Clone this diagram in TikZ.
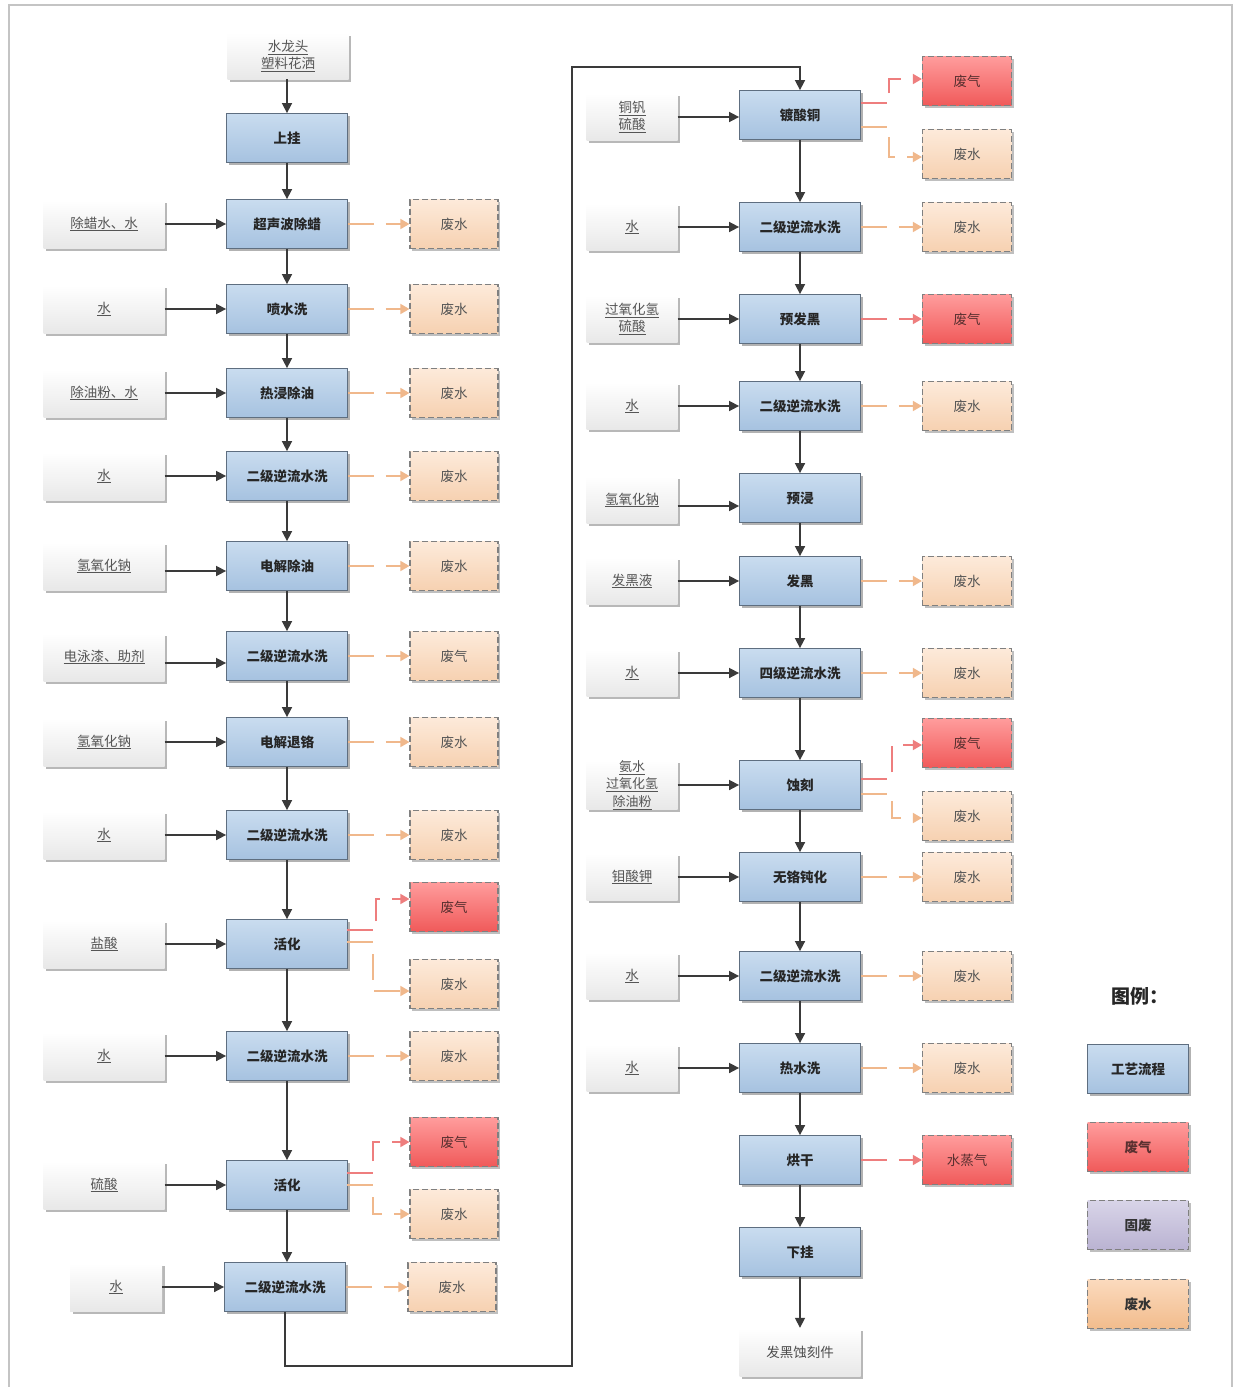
\documentclass[tikz,border=0pt]{standalone}
\usepackage{fontspec}
\setmainfont{Noto Sans CJK SC}
\usetikzlibrary{arrows.meta,shadows}
\definecolor{proctop}{HTML}{C9DCEF}
\definecolor{procbot}{HTML}{A6C2E0}
\definecolor{procborder}{HTML}{5E6E80}
\definecolor{gastop}{HTML}{FF9C9C}
\definecolor{gasbot}{HTML}{F05A5A}
\definecolor{wattop}{HTML}{FDEADA}
\definecolor{watbot}{HTML}{F6D1B1}
\definecolor{lwattop}{HTML}{FBDABD}
\definecolor{lwatbot}{HTML}{F2BC8C}
\definecolor{soltop}{HTML}{D8D4E8}
\definecolor{solbot}{HTML}{BAB3D2}
\definecolor{flowc}{HTML}{3A3A3A}
\definecolor{wwline}{HTML}{F0B88C}
\definecolor{wgline}{HTML}{EE7E7E}
\definecolor{dashc}{HTML}{808080}
\definecolor{intext}{HTML}{555555}
\definecolor{gastext}{HTML}{5A3030}
\definecolor{frame}{HTML}{C4C4C4}
\begin{document}
\begin{tikzpicture}[x=1pt,y=-1pt,
  base/.style={inner sep=0pt, align=center, font=\fontsize{13.5}{17}\selectfont},
  proc/.style={base, draw=procborder, line width=0.8pt, top color=proctop, bottom color=procbot,
    minimum width=121pt, minimum height=49pt, font=\bfseries\fontsize{13.5}{17}\selectfont, text=black!85,
    drop shadow={shadow xshift=2.5pt, shadow yshift=-2.5pt, fill=black, opacity=0.3}},
  inp/.style={base, top color=white, bottom color=black!9, minimum width=121pt, minimum height=48pt, text=intext,
    drop shadow={shadow xshift=2.5pt, shadow yshift=-2.5pt, fill=black, opacity=0.28}},
  inps/.style={inp, minimum width=91pt, minimum height=47pt},
  wat/.style={base, draw=dashc, line width=1.2pt, dash pattern=on 6pt off 3pt, top color=wattop, bottom color=watbot,
    minimum width=88pt, minimum height=49pt, text=intext,
    drop shadow={shadow xshift=2pt, shadow yshift=-2pt, fill=black, opacity=0.25}},
  gas/.style={wat, top color=gastop, bottom color=gasbot, text=gastext},
  flow/.style={draw=flowc, line width=1.6pt, -{Triangle[length=10pt,width=10pt]}},
  ww/.style={draw=wwline, line width=1.6pt, dash pattern=on 26pt off 12pt, -{Triangle[length=9pt,width=10pt]}},
  wg/.style={ww, draw=wgline},
]
\useasboundingbox (0,0) rectangle (1238,1387);
\fill[white] (0,0) rectangle (1238,1387);
\draw[frame, line width=2pt] (9,1387) -- (9,5) -- (1232,5) -- (1232,1387);

% ---------------- left column ----------------
\node[inp, minimum height=46pt] (S0) at (288,56) {\underline{水龙头}\\\underline{塑料花洒}};
\node[proc] (L1) at (287,138) {上挂};
\node[proc] (L2) at (287,224) {超声波除蜡};
\node[proc] (L3) at (287,309) {喷水洗};
\node[proc] (L4) at (287,393) {热浸除油};
\node[proc] (L5) at (287,476) {二级逆流水洗};
\node[proc] (L6) at (287,566) {电解除油};
\node[proc] (L7) at (287,656) {二级逆流水洗};
\node[proc] (L8) at (287,742) {电解退铬};
\node[proc] (L9) at (287,835) {二级逆流水洗};
\node[proc] (L10) at (287,944) {活化};
\node[proc] (L11) at (287,1056) {二级逆流水洗};
\node[proc] (L12) at (287,1185) {活化};
\node[proc] (L13) at (285,1287) {二级逆流水洗};

\node[inp] (I2) at (104,224) {\underline{除蜡水、水}};
\node[inp] (I3) at (104,309) {\underline{水}};
\node[inp] (I4) at (104,393) {\underline{除油粉、水}};
\node[inp] (I5) at (104,476) {\underline{水}};
\node[inp] (I6) at (104,566) {\underline{氢氧化钠}};
\node[inp] (I7) at (104,657) {\underline{电泳漆、助剂}};
\node[inp] (I8) at (104,742) {\underline{氢氧化钠}};
\node[inp] (I9) at (104,835) {\underline{水}};
\node[inp] (I10) at (104,944) {\underline{盐酸}};
\node[inp] (I11) at (104,1056) {\underline{水}};
\node[inp] (I12) at (104,1185) {\underline{硫酸}};
\node[inp, minimum width=92pt] (I13) at (116,1287) {\underline{水}};

\node[wat] (W2) at (454,224) {废水};
\node[wat] (W3) at (454,309) {废水};
\node[wat] (W4) at (454,393) {废水};
\node[wat] (W5) at (454,476) {废水};
\node[wat] (W6) at (454,566) {废水};
\node[wat] (W7) at (454,656) {废气};
\node[wat] (W8) at (454,742) {废水};
\node[wat] (W9) at (454,835) {废水};
\node[gas] (G10) at (454,907) {废气};
\node[wat] (W10) at (454,984) {废水};
\node[wat] (W11) at (454,1056) {废水};
\node[gas] (G12) at (454,1142) {废气};
\node[wat] (W12) at (454,1214) {废水};
\node[wat] (W13) at (452,1287) {废水};

% ---------------- right column ----------------
\node[proc] (R1) at (800,115) {镀酸铜};
\node[proc] (R2) at (800,227) {二级逆流水洗};
\node[proc] (R3) at (800,319) {预发黑};
\node[proc] (R4) at (800,406) {二级逆流水洗};
\node[proc] (R5) at (800,498) {预浸};
\node[proc] (R6) at (800,581) {发黑};
\node[proc] (R7) at (800,673) {四级逆流水洗};
\node[proc] (R8) at (800,785) {蚀刻};
\node[proc] (R9) at (800,877) {无铬钝化};
\node[proc] (R10) at (800,976) {二级逆流水洗};
\node[proc] (R11) at (800,1068) {热水洗};
\node[proc] (R12) at (800,1160) {烘干};
\node[proc] (R13) at (800,1252) {下挂};
\node[inp, text=black!70] (E) at (800,1352) {发黑蚀刻件};

\node[inps] (J1) at (632,117) {\underline{铜钒}\\\underline{硫酸}};
\node[inps] (J2) at (632,227) {\underline{水}};
\node[inps] (J3) at (632,319) {\underline{过氧化氢}\\\underline{硫酸}};
\node[inps] (J4) at (632,406) {\underline{水}};
\node[inps] (J5) at (632,500) {\underline{氢氧化钠}};
\node[inps] (J6) at (632,581) {\underline{发黑液}};
\node[inps] (J7) at (632,673) {\underline{水}};
\node[inps, font=\fontsize{13}{17.5}\selectfont] (J8) at (632,785) {\underline{氨水}\\\underline{过氧化氢}\\\underline{除油粉}};
\node[inps] (J9) at (632,877) {\underline{钼酸钾}};
\node[inps] (J10) at (632,976) {\underline{水}};
\node[inps] (J11) at (632,1068) {\underline{水}};

\node[gas, minimum width=89pt] (H1a) at (967,81) {废气};
\node[wat, minimum width=89pt] (H1b) at (967,154) {废水};
\node[wat, minimum width=89pt] (H2) at (967,227) {废水};
\node[gas, minimum width=89pt] (H3) at (967,319) {废气};
\node[wat, minimum width=89pt] (H4) at (967,406) {废水};
\node[wat, minimum width=89pt] (H6) at (967,581) {废水};
\node[wat, minimum width=89pt] (H7) at (967,673) {废水};
\node[gas, minimum width=89pt] (H8a) at (967,743) {废气};
\node[wat, minimum width=89pt] (H8b) at (967,816) {废水};
\node[wat, minimum width=89pt] (H9) at (967,877) {废水};
\node[wat, minimum width=89pt] (H10) at (967,976) {废水};
\node[wat, minimum width=89pt] (H11) at (967,1068) {废水};
\node[gas, minimum width=89pt] (H12) at (967,1160) {水蒸气};

% ---------------- legend ----------------
\node[font=\bfseries\fontsize{19}{22}\selectfont, text=black!85] (LT) at (1140,996) {图例：};
\node[proc, minimum width=101pt] (LG1) at (1138,1069) {工艺流程};
\node[gas, minimum width=101pt, font=\bfseries\fontsize{13.5}{17}\selectfont] (LG2) at (1138,1147) {废气};
\node[wat, minimum width=101pt, top color=soltop, bottom color=solbot, text=black!80, font=\bfseries\fontsize{13.5}{17}\selectfont] (LG3) at (1138,1225) {固废};
\node[wat, minimum width=101pt, top color=lwattop, bottom color=lwatbot, text=black!80, font=\bfseries\fontsize{13.5}{17}\selectfont] (LG4) at (1138,1304) {废水};

% ---------------- main flow ----------------
\draw[flow] (S0.south -| L1.north) -- (L1.north);
\foreach \a/\b in {L1/L2,L2/L3,L3/L4,L4/L5,L5/L6,L6/L7,L7/L8,L8/L9,L9/L10,L10/L11,L11/L12}
  \draw[flow] (\a.south) -- (\b.north);
\draw[flow] (L12.south) -- (L12.south |- L13.north);
\coordinate (c1) at (572,1366);
\coordinate (c2) at (572,67);
\draw[flow] (L13.south) |- (c1) -- (c2) -| (R1.north);
\foreach \a/\b in {R1/R2,R2/R3,R3/R4,R4/R5,R5/R6,R6/R7,R7/R8,R8/R9,R9/R10,R10/R11,R11/R12,R12/R13,R13/E}
  \draw[flow] (\a.south) -- (\b.north);

% ---------------- inputs ----------------
\foreach \i/\p in {I2/L2,I3/L3,I4/L4,I5/L5,I8/L8,I9/L9,I10/L10,I11/L11,I12/L12,I13/L13,
                   J2/R2,J3/R3,J4/R4,J6/R6,J7/R7,J8/R8,J9/R9,J10/R10,J11/R11}
  \draw[flow] (\i.east) -- (\i.east -| \p.west);
\draw[flow] ([yshift=-5pt]I6.east) -- ([yshift=-5pt]I6.east -| L6.west);
\draw[flow] ([yshift=-6pt]I7.east) -- ([yshift=-6pt]I7.east -| L7.west);
\draw[flow] ([yshift=-6pt]J5.east) -- ([yshift=-6pt]J5.east -| R5.west);
\draw[flow] (J1.east) -- (J1.east -| R1.west);

% ---------------- waste (straight) ----------------
\foreach \p/\w in {L2/W2,L3/W3,L4/W4,L5/W5,L6/W6,L7/W7,L8/W8,L9/W9,L11/W11,L13/W13,
                   R2/H2,R4/H4,R6/H6,R7/H7,R9/H9,R10/H10,R11/H11}
  \draw[ww] (\p.east) -- (\w.west);
\draw[wg] (R3.east) -- (H3.west);
\draw[wg] (R12.east) -- (H12.west);

% ---------------- waste (split) ----------------
\draw[wg] (347,930) -- (376,930) -- (376,899) -- (G10.west |- 0,899);
\draw[ww] (347,942) -- (373,942) -- (373,991) -- (W10.west |- 0,991);
\draw[wg] (347,1173) -- (373,1173) -- (373,1142) -- (G12.west);
\draw[ww] (347,1185) -- (373,1185) -- (373,1214) -- (W12.west);
\draw[wg] (861,103) -- (889,103) -- (889,79) -- (H1a.west |- 0,79);
\draw[ww] (861,127) -- (889,127) -- (889,157) -- (H1b.west |- 0,157);
\draw[wg] (861,779) -- (892,779) -- (892,745) -- (H8a.west |- 0,745);
\draw[ww] (861,794) -- (892,794) -- (892,818) -- (H8b.west |- 0,818);
\end{tikzpicture}
\end{document}
